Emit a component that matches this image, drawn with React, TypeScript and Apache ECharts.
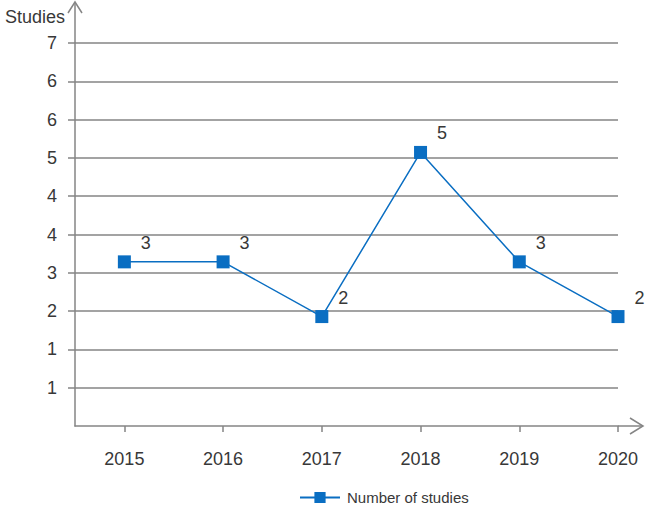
import React, { useEffect, useRef } from "react";
import * as echarts from "echarts";

const years = [2015, 2016, 2017, 2018, 2019, 2020];
const studies = [3, 3, 2, 5, 3, 2];
const yInterval = 0.7;
const yMax = 7;
const xMin = 2014.5;
const xMax = 2020;
const seriesName = "Number of studies";
const yName = "Studies";

const W = 645;
const H = 506;
const G_LEFT = 75;
const G_RIGHT = 27;
const G_TOP = 43;
const G_BOTTOM = 80;
const AXIS_COLOR = "#858585";
const TEXT_COLOR = "#383838";
const BLUE = "#0a6ec2";
const FONT = "Liberation Sans, Arial, sans-serif";

export default function App() {
  const ref = useRef<HTMLDivElement>(null);
  useEffect(() => {
    if (!ref.current) return;
    const chart = echarts.init(ref.current, null, { renderer: "svg" });
    const axisY = H - G_BOTTOM;
    const axisRight = W - G_RIGHT;
    const yTicks: number[] = [];
    for (let v = yInterval; v <= yMax + 1e-9; v += yInterval) yTicks.push(Math.round(v * 10) / 10);
    const option = {
      animation: false,
      textStyle: { fontFamily: FONT },
      grid: { left: G_LEFT, right: G_RIGHT, top: G_TOP, bottom: G_BOTTOM },
      legend: {
        left: 294,
        top: 485,
        itemWidth: 40,
        itemHeight: 14,
        itemGap: 10,
        textStyle: { fontSize: 15, color: TEXT_COLOR, fontFamily: FONT, padding: [4, 0, 0, 2] },
        data: [seriesName],
      },
      xAxis: {
        type: "value",
        min: xMin,
        max: xMax,
        splitLine: { show: false },
        axisLine: { lineStyle: { color: AXIS_COLOR, width: 1.5 } },
        axisTick: { show: true, length: 6, customValues: years, lineStyle: { color: AXIS_COLOR, width: 1.5 } },
        axisLabel: {
          customValues: years,
          margin: 24,
          fontSize: 18,
          color: TEXT_COLOR,
          fontFamily: FONT,
          formatter: (v: number) => String(v),
        },
      },
      yAxis: {
        type: "value",
        min: 0,
        max: yMax,
        interval: yInterval,
        name: yName,
        nameLocation: "end",
        nameGap: 26,
        nameTextStyle: {
          fontSize: 18,
          color: TEXT_COLOR,
          fontFamily: FONT,
          align: "right",
          verticalAlign: "middle",
          padding: [0, 10, 0, 0],
        },
        axisLine: { show: true, lineStyle: { color: AXIS_COLOR, width: 1.5 } },
        axisTick: { show: true, length: 7, customValues: yTicks, lineStyle: { color: AXIS_COLOR, width: 1.5 } },
        splitLine: { show: true, lineStyle: { color: AXIS_COLOR, width: 1.5 } },
        axisLabel: {
          margin: 18,
          fontSize: 18,
          color: TEXT_COLOR,
          fontFamily: FONT,
          formatter: (v: number) => (v < 0.01 ? "" : String(Math.round(v))),
        },
      },
      series: [
        {
          name: seriesName,
          type: "line",
          data: years.map((y, i) => [y, studies[i]]),
          symbol: "rect",
          symbolSize: 13,
          itemStyle: { color: BLUE },
          lineStyle: { color: BLUE, width: 1.5 },
          label: {
            show: true,
            position: "right",
            distance: 10,
            offset: [0, -19],
            fontSize: 18,
            color: TEXT_COLOR,
            fontFamily: FONT,
          },
          z: 5,
        },
      ],
      graphic: [
        {
          type: "line",
          shape: { x1: G_LEFT, y1: G_TOP, x2: G_LEFT, y2: 2 },
          style: { stroke: AXIS_COLOR, lineWidth: 1.5 },
        },
        {
          type: "polyline",
          shape: { points: [[G_LEFT - 7, 13], [G_LEFT, 2], [G_LEFT + 7, 13]] },
          style: { stroke: AXIS_COLOR, lineWidth: 1.5, fill: null },
        },
        {
          type: "line",
          shape: { x1: axisRight, y1: axisY, x2: W - 2, y2: axisY },
          style: { stroke: AXIS_COLOR, lineWidth: 1.5 },
        },
        {
          type: "polyline",
          shape: { points: [[W - 15, axisY - 8], [W - 2, axisY], [W - 15, axisY + 8]] },
          style: { stroke: AXIS_COLOR, lineWidth: 1.5, fill: null },
        },
      ],
    };
    chart.setOption(option as any);
    return () => chart.dispose();
  }, []);
  return (
    <div
      ref={ref}
      style={{ position: "fixed", left: 0, top: 0, width: W, height: H, background: "#fff" }}
    />
  );
}
